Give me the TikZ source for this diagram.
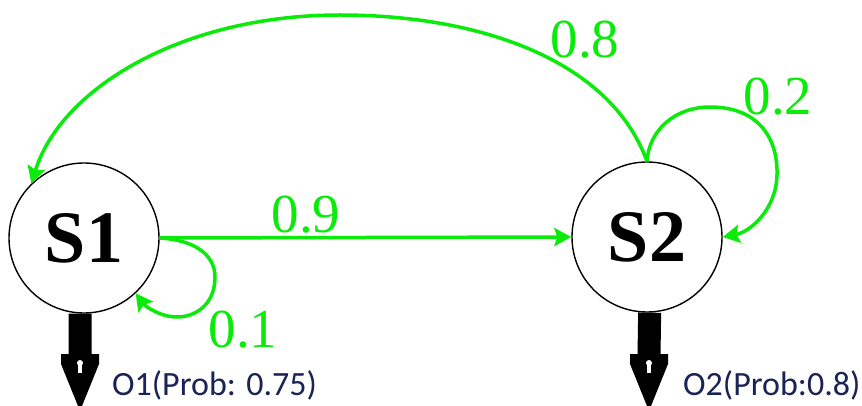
\documentclass[tikz,border=0pt]{standalone}
\usepackage{fontspec}
\setmainfont{Liberation Serif}
\newfontfamily\labelfont{Carlito}
\usetikzlibrary{arrows.meta}
\definecolor{lgreen}{RGB}{10,235,10}
\definecolor{navy}{RGB}{25,35,85}
\tikzset{
  state/.style={circle,draw=black,line width=1.4pt,minimum size=150pt,inner sep=0pt,
    font=\fontsize{74}{74}\selectfont\bfseries},
  trans/.style={draw=lgreen,line width=3.5pt,-{Stealth[length=17pt,width=18pt,inset=3pt]}},
  prob/.style={text=lgreen,font=\fontsize{55}{55}\selectfont,inner sep=0pt,anchor=base},
  outbar/.style={draw=black,line width=23pt},
  obslabel/.style={text=navy,font=\labelfont\fontsize{34}{34}\selectfont,inner sep=0pt,anchor=base west},
  outhead/.pic={
    \fill[black] (-19,-52) -- (19,-52) -- (19,-42) -- (2,0) -- (-2,0) -- (-19,-42) -- cycle;
    \fill[white] (-2,-44) rectangle (2,-33);
    \fill[white] (0,-43) circle (3pt);
  }
}
\begin{document}
\begin{tikzpicture}[x=1pt,y=-1pt]
\useasboundingbox (0,0) rectangle (862,406);
\node[state] (S1) at (84,238) {S1};
\node[state] (S2) at (647,237) {S2};
% outputs
\coordinate (o1) at (80,406);
\coordinate (o1b) at (80,356);
\coordinate (o2) at (649,406);
\coordinate (o2b) at (649,356);
\draw[outbar] (S1.-93) -- (o1b);
\draw[outbar] (S2.-88) -- (o2b);
\pic at (o1) {outhead};
\pic at (o2) {outhead};
\node[obslabel] (l1) at (112,395) {O1(Prob: 0.75)};
\node[obslabel] (l2) at (683,395) {O2(Prob:0.8)};
% transitions
\draw[trans] (S1.east) -- (S2.west);
\node[prob] (p9) at (306,233) {0.9};
\draw[trans] (S2.north) .. controls (610,60) and (480,15) .. (340,15)
  .. controls (180,15) and (60,90) .. (S1.134);
\node[prob] (p8) at (585,58) {0.8};
\draw[trans] (S2.north) .. controls (649,130) and (675,107) .. (710,107)
  .. controls (760,107) and (778,140) .. (777,175)
  .. controls (776,210) and (750,232) .. (S2.east);
\node[prob] (p2) at (778,115) {0.2};
\draw[trans] (S1.east) .. controls (195,240) and (215,255) .. (215,277)
  .. controls (215,305) and (195,317) .. (177,317)
  .. controls (160,317) and (145,306) .. (S1.-47);
\node[prob] (p1) at (243,347) {0.1};
\end{tikzpicture}
\end{document}
